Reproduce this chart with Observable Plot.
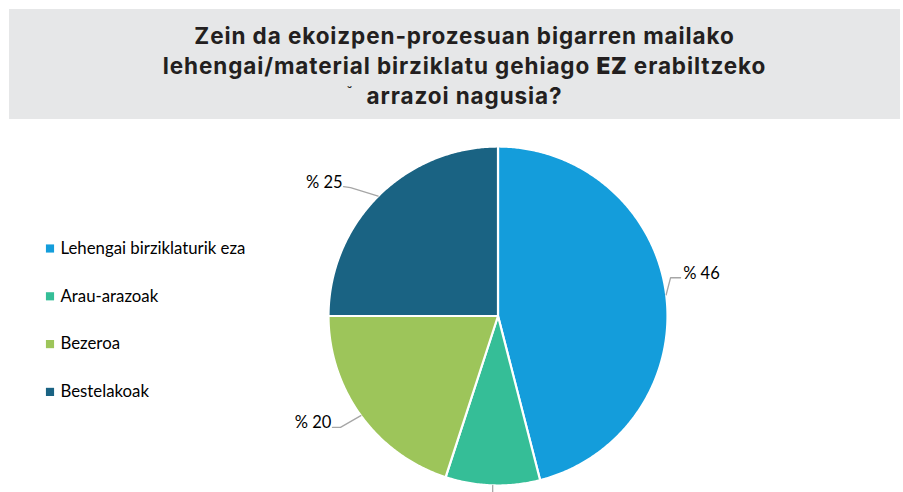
<!DOCTYPE html>
<html>
<head>
<meta charset="utf-8">
<script src="https://cdn.jsdelivr.net/npm/d3@7"></script>
<script src="https://cdn.jsdelivr.net/npm/@observablehq/plot@0.6"></script>
<style>
  html, body { margin: 0; padding: 0; background: #fff; width: 903px; height: 492px; overflow: hidden; }
  #title {
    position: relative;
    margin: 9px 3px 0 9px;
    height: 110px;
    background: #e6e7e8;
    font-family: Inter, "Open Sans", sans-serif;
    font-weight: 700;
    font-size: 22.5px;
    line-height: 30px;
    color: #231f20;
    text-align: center;
    box-sizing: border-box;
    padding: 12px 0 0 20px;
    letter-spacing: 0.9px;
  }
  #title b { font-weight: 900; }
  #breve { position: absolute; left: 338px; top: 76px; font-size: 12px; line-height: 12px; font-weight: 700; letter-spacing: 0; }
  #chart svg { display: block; }
</style>
</head>
<body>
<div id="title">Zein da ekoizpen-prozesuan bigarren mailako<br>lehengai/material birziklatu gehiago <b>EZ</b> erabiltzeko<br>arrazoi nagusia?<span id="breve">˘</span></div>
<div id="chart"></div>
<script>
// ---- data ----
const categories = ["Lehengai birziklaturik eza", "Arau-arazoak", "Bezeroa", "Bestelakoak"];
const values = [46, 9, 20, 25];
const labels = ["% 46", "% 9", "% 20", "% 25"];
const colors = ["#149ddb", "#35be97", "#9dc55a", "#1a6383"];

// ---- layout ----
const W = 903, H = 373;
const cx = 497.5, cy = 196.5, R = 169.5;
// leader knee / end / text offsets relative to slice edge point (Excel-style label placement)
const leader = [
  {kx: 4.4, ky: -17, ex: 14.4, ey: -17, tx: 17, ty: -17, anchor: "start"},
  {kx: 0, ky: 15, ex: 0, ey: 15, tx: 0, ty: 30, anchor: "middle"},
  {kx: -20.4, ky: 11.8, ex: -28.4, ey: 11.8, tx: -29.5, ty: 11.8, anchor: "end"},
  {kx: -27.6, ky: -8.6, ex: -34.6, ey: -9.6, tx: -35.5, ty: -9.6, anchor: "end"}
];

const arcs = d3.pie().sort(null).value(d => d.value)(categories.map((c, i) => ({category: c, value: values[i], label: labels[i], i})));

const pt = (a, r) => [cx + r * Math.sin(a), cy - r * Math.cos(a)];

const slicePts = [];
for (const a of arcs) {
  slicePts.push({category: a.data.category, x: cx, y: cy});
  const n = Math.max(2, Math.ceil((a.endAngle - a.startAngle) / (Math.PI / 360)));
  for (let k = 0; k <= n; k++) {
    const t = a.startAngle + (a.endAngle - a.startAngle) * k / n;
    const [x, y] = pt(t, R);
    slicePts.push({category: a.data.category, x, y});
  }
}

const leaderPts = [];
const labelPts = [];
for (const a of arcs) {
  const m = (a.startAngle + a.endAngle) / 2;
  const [x, y] = pt(m, R);
  const o = leader[a.data.i];
  leaderPts.push({k: a.data.i, x, y});
  leaderPts.push({k: a.data.i, x: x + o.kx, y: y + o.ky});
  leaderPts.push({k: a.data.i, x: x + o.ex, y: y + o.ey});
  labelPts.push({x: x + o.tx, y: y + o.ty, text: a.data.label, anchor: o.anchor});
}

const legendRows = categories.map((c, i) => ({category: c, i}));

const chart = Plot.plot({
  width: W,
  height: H,
  margin: 0,
  x: {domain: [0, W], range: [0, W], axis: null},
  y: {domain: [0, H], range: [0, H], axis: null},
  color: {domain: categories, range: colors},
  style: {fontFamily: "Lato, 'Open Sans', sans-serif", background: "white"},
  marks: [
    Plot.line(slicePts, {x: "x", y: "y", z: "category", fill: "category", stroke: "white", strokeWidth: 2.2, curve: "linear-closed"}),
    Plot.line(leaderPts, {x: "x", y: "y", z: "k", stroke: "#a6a6a6", strokeWidth: 1.3}),
    ...["start", "middle", "end"].map(anc => Plot.text(labelPts.filter(d => d.anchor === anc), {x: "x", y: "y", text: "text", textAnchor: anc, lineAnchor: "bottom", dy: 1, fontSize: 16.5, fill: "#000"})),
    Plot.dot(legendRows, {x: () => 49.5, y: d => 129 + d.i * 47.8, symbol: "square", r: 4.6, fill: "category", stroke: null}),
    Plot.text(legendRows, {x: () => 60, y: d => 129 + d.i * 47.8, text: "category", textAnchor: "start", fontSize: 16.8, fill: "#000"})
  ]
});
document.getElementById("chart").appendChild(chart);
</script>
</body>
</html>
